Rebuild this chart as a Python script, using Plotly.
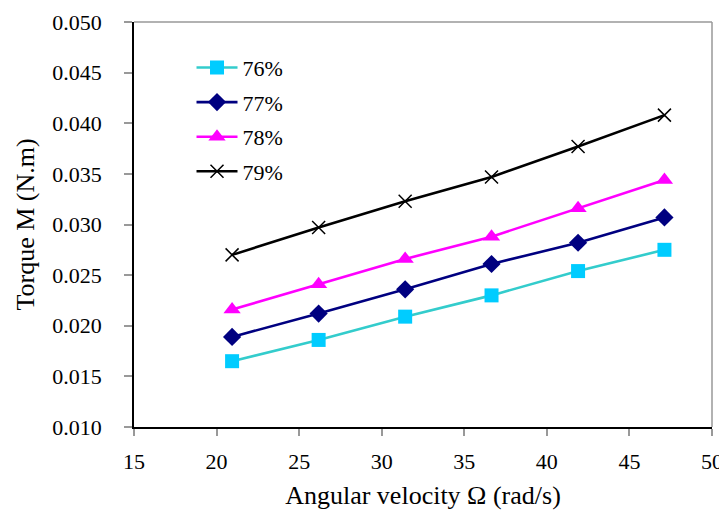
import plotly.graph_objects as go

omega = [20.94, 26.18, 31.42, 36.65, 41.89, 47.12]
series_names = ["76%", "77%", "78%", "79%"]
torque_76 = [0.0165, 0.0186, 0.0209, 0.0230, 0.0254, 0.0275]
torque_77 = [0.0189, 0.0212, 0.0236, 0.0261, 0.0282, 0.0307]
torque_78 = [0.0216, 0.0241, 0.0266, 0.0288, 0.0316, 0.0344]
torque_79 = [0.0270, 0.0297, 0.0323, 0.0347, 0.0377, 0.0408]
x_ticks = [15, 20, 25, 30, 35, 40, 45, 50]
y_ticks = [0.010, 0.015, 0.020, 0.025, 0.030, 0.035, 0.040, 0.045, 0.050]
y_tick_text = ["0.010", "0.015", "0.020", "0.025", "0.030", "0.035", "0.040", "0.045", "0.050"]

styles = [
    dict(line=dict(color="#33CCCC", width=2.6), marker=dict(symbol="square", size=14, color="#00CCFF")),
    dict(line=dict(color="#000080", width=2.6), marker=dict(symbol="diamond", size=14, color="#000080")),
    dict(line=dict(color="#FF00FF", width=2.6), marker=dict(symbol="triangle-up", size=15, color="#FF00FF")),
    dict(line=dict(color="#000000", width=2.6), marker=dict(symbol="x-thin-open", size=13, color="#000000",
                                                          line=dict(width=1.5, color="#000000"))),
]

fig = go.Figure()
for name, ys, st in zip(series_names, [torque_76, torque_77, torque_78, torque_79], styles):
    fig.add_trace(go.Scatter(x=omega, y=ys, name=name, mode="lines+markers",
                             legendgroup=name, line=st["line"], marker=st["marker"]))

font_family = "Liberation Serif, Times New Roman, serif"
fig.update_layout(
    width=727, height=513,
    margin=dict(l=126, r=23, t=14, b=94, autoexpand=False),
    paper_bgcolor="white", plot_bgcolor="white",
    font=dict(family=font_family, size=22, color="black"),
    legend=dict(x=0.0995, y=0.939, xanchor="left", yanchor="top",
                font=dict(size=22, family=font_family),
                traceorder="grouped", tracegroupgap=3, itemwidth=41,
                bgcolor="rgba(0,0,0,0)"),
    xaxis=dict(range=[15, 50], tickvals=x_ticks, showgrid=False, zeroline=False,
               showline=True, linecolor="black", linewidth=1.5,
               ticks="outside", ticklen=7, tickcolor="#999999", tickwidth=1.5,
               ticklabelstandoff=7, automargin=False,
               title=dict(text="Angular velocity Ω (rad/s)", standoff=13)),
    yaxis=dict(range=[0.010, 0.050], tickvals=y_ticks, ticktext=y_tick_text,
               showgrid=False, zeroline=False,
               showline=True, linecolor="black", linewidth=1.5,
               ticks="outside", ticklen=8, tickcolor="#999999", tickwidth=1.5,
               ticklabelstandoff=18, automargin=False,
               title=dict(text="Torque M (N.m)", standoff=10)),
)
# gray top and right frame of the plot area
fig.add_shape(type="line", xref="paper", yref="paper", x0=0, x1=1, y0=1, y1=1,
              line=dict(color="#999999", width=1.5))
fig.add_shape(type="line", xref="paper", yref="paper", x0=1, x1=1, y0=0, y1=1,
              line=dict(color="#999999", width=1.5))

fig.write_html("out.html")
